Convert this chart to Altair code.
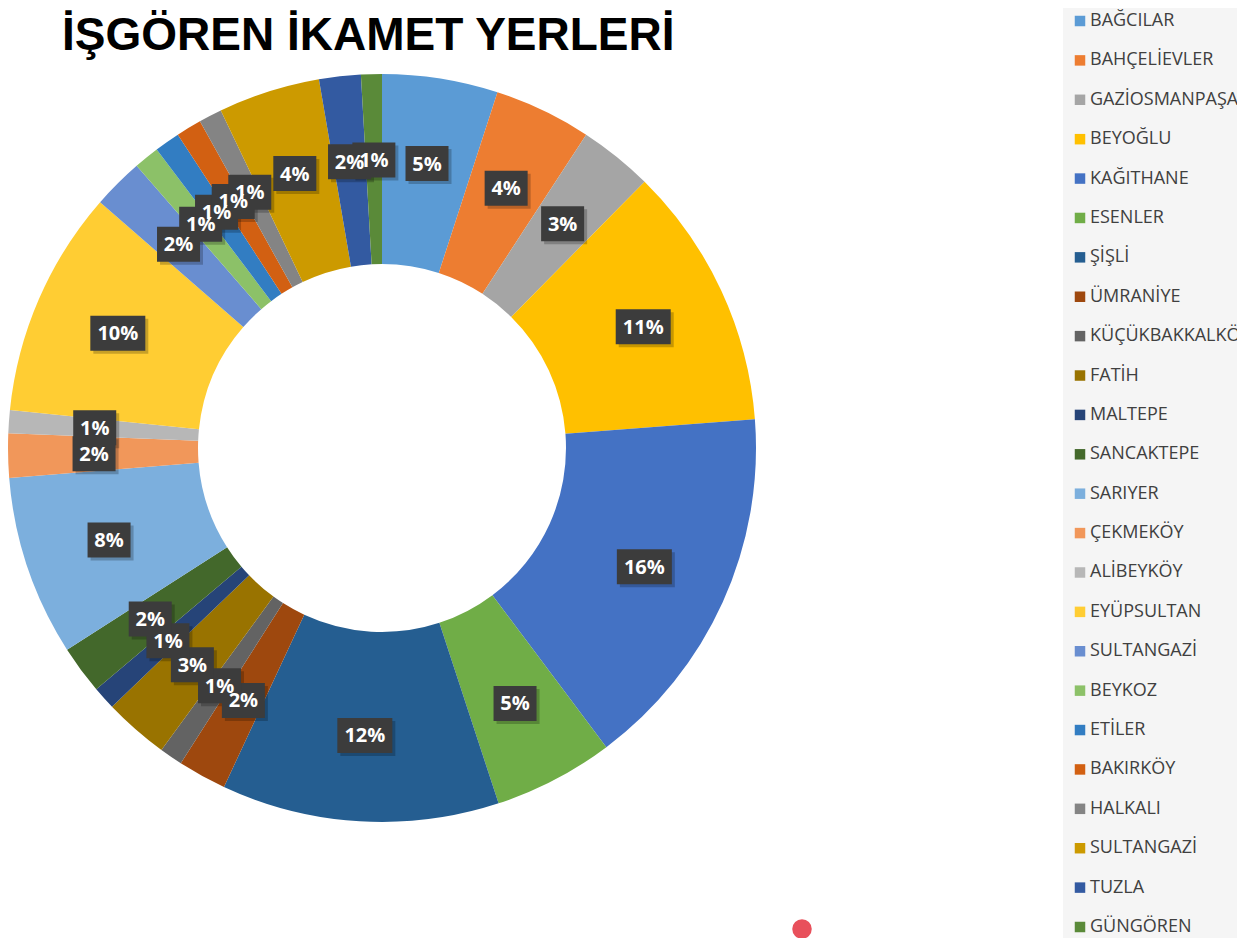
import altair as alt
import pandas as pd

# ---- data ----
names = ["BAĞCILAR", "BAHÇELİEVLER", "GAZİOSMANPAŞA", "BEYOĞLU", "KAĞITHANE",
         "ESENLER", "ŞİŞLİ", "ÜMRANİYE", "KÜÇÜKBAKKALKÖY", "FATİH", "MALTEPE",
         "SANCAKTEPE", "SARIYER", "ÇEKMEKÖY", "ALİBEYKÖY", "EYÜPSULTAN",
         "SULTANGAZİ", "BEYKOZ", "ETİLER", "BAKIRKÖY", "HALKALI", "SULTANGAZİ",
         "TUZLA", "GÜNGÖREN"]
values = [5.0, 4.2, 3.2, 11.4, 16.0, 5.2, 12.0, 2.1, 1.0, 2.8, 1.0, 2.1,
          7.8, 1.9, 1.0, 9.8, 2.2, 1.1, 1.1, 1.1, 1.0, 4.4, 1.8, 0.9]
labels = ["5%", "4%", "3%", "11%", "16%", "5%", "12%", "2%", "1%", "3%", "1%",
          "2%", "8%", "2%", "1%", "10%", "2%", "1%", "1%", "1%", "1%", "4%",
          "2%", "1%"]
colors = ["#5B9BD5", "#ED7D31", "#A5A5A5", "#FFC000", "#4472C4", "#70AD47",
          "#255E91", "#9E480E", "#636363", "#997300", "#264478", "#43682B",
          "#7CAFDD", "#F1975A", "#B7B7B7", "#FFCD33", "#698ED0", "#8CC168",
          "#327DC2", "#D26012", "#848484", "#CC9A00", "#335AA1", "#5A8A39"]
title_text = "İŞGÖREN İKAMET YERLERİ"

idx = list(range(len(names)))
df = pd.DataFrame({"idx": idx, "name": names, "value": values, "label": labels})

# ---- layout constants ----
W, H = 1229, 930
CX, CY = 374, 440
R_OUT, R_IN, R_LAB = 374, 184, 288

color_scale = alt.Scale(domain=idx, range=colors)

one = pd.DataFrame({"t": [title_text]})

legend_bg = alt.Chart(one).mark_rect(color="#f5f5f5").encode(
    x=alt.value(1055), x2=alt.value(W), y=alt.value(0), y2=alt.value(H)
)

arcs = alt.Chart(df).mark_arc(outerRadius=R_OUT, innerRadius=R_IN).encode(
    theta=alt.Theta("value:Q", stack=True),
    color=alt.Color("idx:N", scale=color_scale, legend=None),
    order=alt.Order("idx:Q", sort="ascending"),
    x=alt.value(CX),
    y=alt.value(CY),
)

lab = alt.Chart(df).transform_joinaggregate(
    total="sum(value)"
).transform_window(
    cum="sum(value)", sort=[alt.SortField("idx")], frame=[None, 0]
).transform_calculate(
    ang="2*PI*(datum.cum - datum.value/2)/datum.total"
).transform_calculate(
    lx=f"{CX} + {R_LAB}*sin(datum.ang)",
    ly=f"{CY} - {R_LAB}*cos(datum.ang)",
    bw="19 + 12*length(datum.label)",
).transform_calculate(
    bx="datum.lx - datum.bw/2",
    bx2="datum.lx + datum.bw/2",
    by="datum.ly - 17.5",
    by2="datum.ly + 17.5",
    sx="datum.lx - datum.bw/2 + 3",
    sx2="datum.lx + datum.bw/2 + 3",
    sy="datum.ly - 17.5 + 3",
    sy2="datum.ly + 17.5 + 3",
)

shadows = lab.mark_rect(color="#000000", opacity=0.22).encode(
    x=alt.X("sx:Q", scale=None, axis=None), x2="sx2:Q",
    y=alt.Y("sy:Q", scale=None, axis=None), y2="sy2:Q",
)
boxes = lab.mark_rect(color="#3c3c3c").encode(
    x=alt.X("bx:Q", scale=None, axis=None), x2="bx2:Q",
    y=alt.Y("by:Q", scale=None, axis=None), y2="by2:Q",
)
texts = lab.mark_text(
    font="Open Sans", fontSize=20, fontWeight="bold", color="white",
    align="center", baseline="middle", dy=1
).encode(
    x=alt.X("lx:Q", scale=None, axis=None),
    y=alt.Y("ly:Q", scale=None, axis=None),
    text="label:N",
)

leg_y = alt.Y("idx:O", scale=alt.Scale(type="point", domain=idx, range=[13, 919], padding=0), axis=None)
leg_sq = alt.Chart(df).mark_square(size=110, opacity=1).encode(
    x=alt.value(1072),
    y=leg_y,
    color=alt.Color("idx:N", scale=color_scale, legend=None),
)
leg_txt = alt.Chart(df).mark_text(
    font="Open Sans", fontSize=18, color="#404040", align="left", baseline="middle"
).encode(
    x=alt.value(1082),
    y=leg_y,
    text="name:N",
)

title = alt.Chart(one).mark_text(
    font="Liberation Sans", fontSize=46, fontWeight="bold", color="#000000",
    align="left", baseline="alphabetic"
).encode(x=alt.value(54), y=alt.value(42), text="t:N")

dot = alt.Chart(one).mark_circle(size=380, color="#E8505B", opacity=1).encode(
    x=alt.value(794), y=alt.value(921)
)

chart = alt.layer(
    legend_bg, arcs, shadows, boxes, texts, leg_sq, leg_txt, title, dot
).resolve_scale(
    x="independent", y="independent"
).properties(
    width=W, height=H, padding=0,
    autosize=alt.AutoSizeParams(type="none"),
).configure_view(stroke=None)

chart.save("out.html", embed_options={"renderer": "svg", "actions": False})
